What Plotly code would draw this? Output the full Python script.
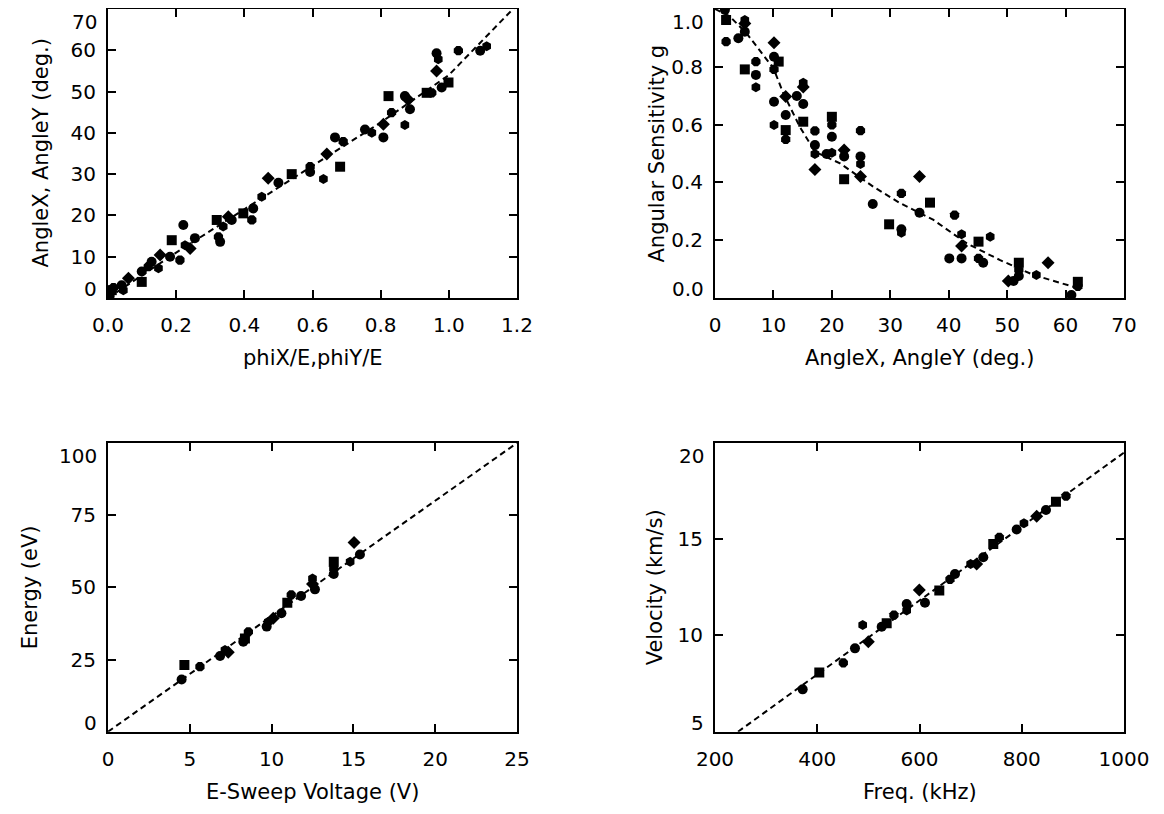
import plotly.graph_objects as go

# ---------------- data ----------------
# Panel 1: AngleX, AngleY vs phiX/E, phiY/E
p1_x = [0.005, 0.011, 0.016, 0.04, 0.045, 0.06, 0.099, 0.099, 0.118, 0.128, 0.148, 0.153, 0.182, 0.187,
        0.211, 0.221, 0.226, 0.241, 0.255, 0.319, 0.324, 0.329, 0.338, 0.353, 0.363, 0.397, 0.422, 0.426,
        0.451, 0.47, 0.5, 0.539, 0.593, 0.593, 0.632, 0.642, 0.666, 0.681, 0.69, 0.754, 0.774, 0.808,
        0.808, 0.823, 0.832, 0.871, 0.871, 0.881, 0.886, 0.935, 0.95, 0.964, 0.969, 0.964, 0.979, 0.999,
        1.028, 1.092, 1.111]
p1_y = [0.5, 1.9, 2.5, 3.1, 1.9, 4.8, 6.4, 3.9, 7.6, 8.8, 7.2, 10.4, 10.0, 14.0,
        9.2, 17.7, 12.8, 12.0, 14.5, 18.9, 14.8, 13.6, 17.3, 19.7, 18.9, 20.5, 18.9, 21.7,
        24.5, 29.0, 27.9, 30.0, 31.8, 30.5, 28.8, 34.9, 38.9, 31.8, 37.9, 40.8, 40.0, 42.1,
        38.9, 48.9, 44.9, 48.9, 41.9, 48.0, 45.7, 49.7, 49.7, 59.3, 57.8, 55.0, 51.0, 52.2,
        59.9, 59.9, 61.0]
p1_fit_x = [0.0, 0.1, 0.2, 0.4, 0.6, 0.8, 1.0, 1.1, 1.2]
p1_fit_y = [0.0, 5.5, 11.0, 21.5, 32.0, 42.5, 54.0, 62.5, 71.0]
p1_xticks = [0.0, 0.2, 0.4, 0.6, 0.8, 1.0, 1.2]
p1_xlabels = ["0.0", "0.2", "0.4", "0.6", "0.8", "1.0", "1.2"]
p1_yticks = [0, 10, 20, 30, 40, 50, 60, 70]
p1_ylabels = ["0", "10", "20", "30", "40", "50", "60", "70"]

# Panel 2: Angular sensitivity vs angle
p2_x = [1.7, 1.9, 1.9, 4.0, 5.1, 5.1, 5.1, 5.1, 7.0, 7.0, 7.0, 10.1, 10.1, 10.9, 10.1, 10.1, 10.1,
        12.1, 12.1, 12.1, 12.1, 14.0, 15.1, 15.1, 15.1, 15.1, 17.1, 17.1, 17.1, 17.1, 19.1, 20.0, 20.0,
        20.0, 20.0, 22.1, 22.1, 22.1, 24.9, 24.9, 24.9, 24.9, 27.0, 29.8, 31.9, 31.9, 31.9, 35.0, 35.0,
        36.8, 41.0, 40.1, 42.2, 42.2, 42.2, 45.1, 45.1, 45.9, 47.1, 50.2, 51.1, 52.0, 52.0, 52.0, 55.0,
        57.0, 61.0, 62.1, 62.1]
p2_y = [0.997, 0.962, 0.887, 0.899, 0.962, 0.95, 0.921, 0.791, 0.818, 0.772, 0.729, 0.883, 0.835, 0.818,
        0.791, 0.679, 0.599, 0.697, 0.633, 0.581, 0.549, 0.699, 0.745, 0.73, 0.671, 0.61, 0.578, 0.529,
        0.498, 0.445, 0.498, 0.627, 0.599, 0.558, 0.503, 0.512, 0.49, 0.411, 0.579, 0.49, 0.464, 0.42,
        0.325, 0.255, 0.362, 0.238, 0.226, 0.42, 0.295, 0.33, 0.287, 0.137, 0.221, 0.18, 0.137, 0.195,
        0.137, 0.122, 0.212, 0.059, 0.059, 0.122, 0.097, 0.076, 0.08, 0.122, 0.01, 0.056, 0.04]
p2_fit_x = [0.0, 2.5, 5.4, 10.0, 11.7, 14.5, 17.1, 21.4, 27.1, 31.7, 37.4, 43.1, 48.8, 54.5, 61.3, 62.0]
p2_fit_y = [1.0, 0.975, 0.916, 0.795, 0.708, 0.593, 0.506, 0.466, 0.385, 0.328, 0.27, 0.189, 0.131, 0.08, 0.039, 0.03]
p2_xticks = [0, 10, 20, 30, 40, 50, 60, 70]
p2_xlabels = ["0", "10", "20", "30", "40", "50", "60", "70"]
p2_yticks = [0.0, 0.2, 0.4, 0.6, 0.8, 1.0]
p2_ylabels = ["0.0", "0.2", "0.4", "0.6", "0.8", "1.0"]

# Panel 3: Energy vs E-Sweep voltage
p3_x = [4.5, 4.67, 5.62, 6.85, 7.15, 7.35, 8.27, 8.37, 8.58, 9.7, 9.8, 10.1, 10.6, 10.96, 11.2, 11.8,
        12.5, 12.5, 12.65, 13.8, 13.8, 13.8, 14.8, 15.04, 15.4]
p3_y = [18.1, 23.1, 22.5, 26.2, 28.3, 27.5, 31.2, 32.3, 34.6, 36.4, 38.1, 39.3, 41.0, 44.7, 47.4, 47.0,
        53.1, 51.2, 49.3, 58.9, 56.6, 54.6, 58.9, 65.5, 61.4]
p3_fit_x = [0.0, 25.0]
p3_fit_y = [0.0, 100.0]
p3_xticks = [0, 5, 10, 15, 20, 25]
p3_xlabels = ["0", "5", "10", "15", "20", "25"]
p3_yticks = [0, 25, 50, 75, 100]
p3_ylabels = ["0", "25", "50", "75", "100"]

# Panel 4: Velocity vs frequency
p4_x = [371.5, 404, 451, 473.8, 488.9, 499.9, 526, 535.8, 550, 574.9, 574.9, 599.6, 610.7, 638.7,
        659.6, 669.4, 700, 711.8, 724.8, 744.3, 756.1, 790, 804.3, 829.2, 847.4, 866.9, 886.5]
p4_y = [7.2, 8.07, 8.58, 9.33, 10.54, 9.68, 10.45, 10.63, 11.06, 11.63, 11.3, 12.36, 11.7, 12.33,
        12.92, 13.19, 13.71, 13.71, 14.06, 14.75, 15.1, 15.51, 15.83, 16.2, 16.52, 16.95, 17.24]
p4_fit_x = [245.0, 1000.0]
p4_fit_y = [5.0, 19.5]
p4_xticks = [200, 400, 600, 800, 1000]
p4_xlabels = ["200", "400", "600", "800", "1000"]
p4_yticks = [5, 10, 15, 20]
p4_ylabels = ["5", "10", "15", "20"]

titles = [
    ("phiX/E,phiY/E", "AngleX, AngleY (deg.)"),
    ("AngleX, AngleY (deg.)", "Angular Sensitivity g"),
    ("E-Sweep Voltage (V)", "Energy (eV)"),
    ("Freq. (kHz)", "Velocity (km/s)"),
]

# ---------------- figure ----------------
W, H = 1164, 814
OFF = 8  # page body margin
FONT = "DejaVu Sans"
TICK_SIZE = 20
TITLE_SIZE = 21
SYMS = ["circle", "square", "octagon", "circle", "hexagon", "diamond"]

def syms(n):
    return [SYMS[i % len(SYMS)] for i in range(n)]

def px2x(p):
    return (p - OFF) / W

def px2y(p):
    return 1 - (p - OFF) / H

left = [108, 517]
right = [715, 1124]
top = [9, 298]
bot = [443, 731.7]

panels = [
    dict(px=p1_x, py=p1_y, fx=p1_fit_x, fy=p1_fit_y, xt=p1_xticks, xl=p1_xlabels, yt=p1_yticks,
         yl=p1_ylabels, xr=[0, 1.2], yr=[0, 70], xd=left, yd=top, ytitle_x=40),
    dict(px=p2_x, py=p2_y, fx=p2_fit_x, fy=p2_fit_y, xt=p2_xticks, xl=p2_xlabels, yt=p2_yticks,
         yl=p2_ylabels, xr=[0, 70], yr=[0, 1.0], xd=right, yd=top, ytitle_x=656),
    dict(px=p3_x, py=p3_y, fx=p3_fit_x, fy=p3_fit_y, xt=p3_xticks, xl=p3_xlabels, yt=p3_yticks,
         yl=p3_ylabels, xr=[0, 25], yr=[0, 100], xd=left, yd=bot, ytitle_x=30),
    dict(px=p4_x, py=p4_y, fx=p4_fit_x, fy=p4_fit_y, xt=p4_xticks, xl=p4_xlabels, yt=p4_yticks,
         yl=p4_ylabels, xr=[200, 1000], yr=[5, 20], xd=right, yd=bot, ytitle_x=655),
]

fig = go.Figure()
axis_common = dict(showline=True, linecolor="black", linewidth=2, mirror="ticks",
                   ticks="inside", ticklen=8, tickwidth=2, tickcolor="black",
                   showgrid=False, zeroline=False, automargin=False,
                   tickfont=dict(family=FONT, size=TICK_SIZE, color="black"))
layout = {}
for i, p in enumerate(panels):
    n = "" if i == 0 else str(i + 1)
    xa, ya = "x" + n, "y" + n
    fig.add_trace(go.Scatter(x=p["fx"], y=p["fy"], mode="lines", xaxis=xa, yaxis=ya,
                             line=dict(color="black", width=2, dash="6px,4px"),
                             showlegend=False, hoverinfo="skip"))
    fig.add_trace(go.Scatter(x=p["px"], y=p["py"], mode="markers", xaxis=xa, yaxis=ya,
                             marker=dict(color="black", size=10, symbol=syms(len(p["px"])),
                                         line=dict(width=0)),
                             showlegend=False, cliponaxis=True))
    # inner y labels via axis; end labels placed inside the axis span like the original
    inner_text = [""] + p["yl"][1:-1] + [""]
    layout["xaxis" + n] = dict(axis_common, domain=[px2x(p["xd"][0]), px2x(p["xd"][1])],
                               range=p["xr"], tickmode="array", tickvals=p["xt"],
                               ticktext=p["xl"], anchor=ya, ticklabelstandoff=8)
    layout["yaxis" + n] = dict(axis_common, domain=[px2y(p["yd"][1]), px2y(p["yd"][0])],
                               range=p["yr"], tickmode="array", tickvals=p["yt"],
                               ticktext=inner_text, anchor=xa, ticklabelstandoff=6)
    for val, txt, shift, yanc in [(p["yt"][0], p["yl"][0], -4, "bottom"),
                                  (p["yt"][-1], p["yl"][-1], 0, "top")]:
        fig.add_annotation(text=txt, x=0, xref=xa + " domain", y=val, yref=ya,
                           xanchor="right", yanchor=yanc, xshift=-10, yshift=shift,
                           borderpad=0, showarrow=False,
                           font=dict(family=FONT, size=TICK_SIZE, color="black"))
    xt_title, yt_title = titles[i]
    xmid = (p["xd"][0] + p["xd"][1]) / 2
    fig.add_annotation(text=xt_title, x=px2x(xmid), y=px2y(p["yd"][1] + 60), xref="paper",
                       yref="paper", showarrow=False, xanchor="center", yanchor="middle",
                       font=dict(family=FONT, size=TITLE_SIZE, color="black"))
    ymid = (p["yd"][0] + p["yd"][1]) / 2
    fig.add_annotation(text=yt_title, x=px2x(p["ytitle_x"]), y=px2y(ymid), xref="paper",
                       yref="paper", showarrow=False, textangle=-90, xanchor="center",
                       yanchor="middle", font=dict(family=FONT, size=TITLE_SIZE, color="black"))

fig.update_layout(
    width=W, height=H, margin=dict(l=0, r=0, t=0, b=0, autoexpand=False),
    paper_bgcolor="white", plot_bgcolor="white",
    font=dict(family=FONT, size=TICK_SIZE, color="black"),
    **layout,
)

fig.write_html("out.html")
